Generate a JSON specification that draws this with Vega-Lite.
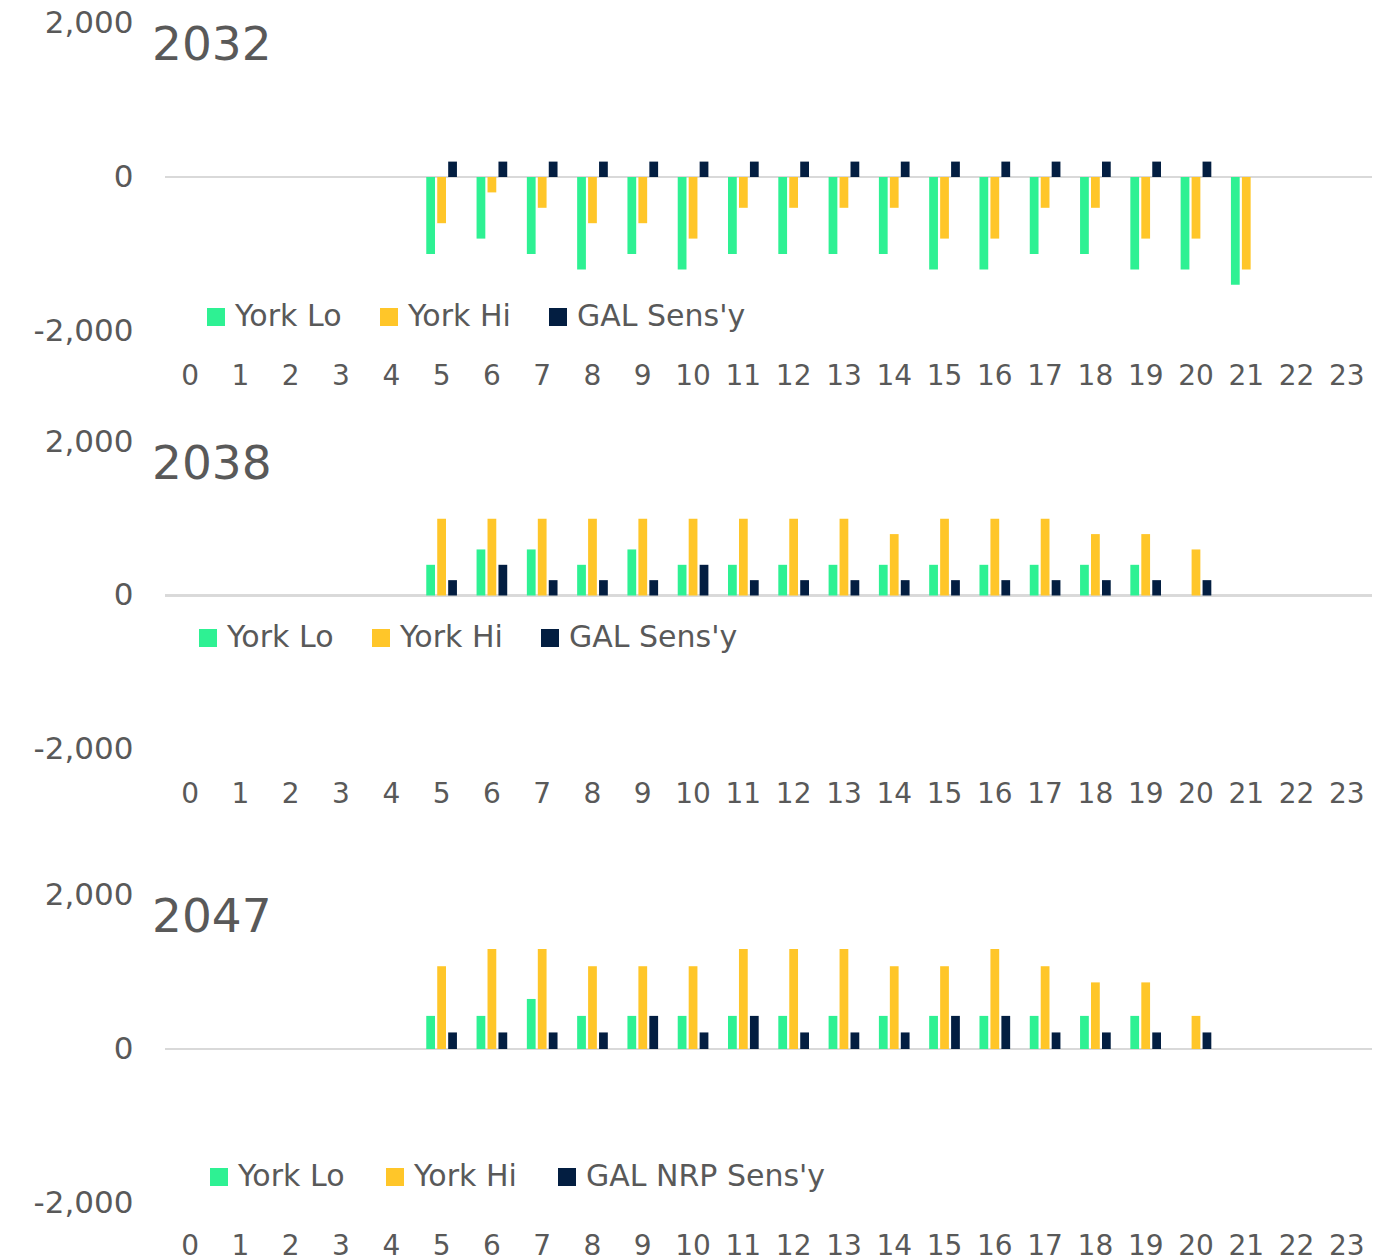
{
  "$schema": "https://vega.github.io/schema/vega-lite/v6.json",
  "background": "white",
  "padding": {"left": 33, "top": 7, "right": 0, "bottom": 0},
  "config": {
    "view": {"stroke": null},
    "font": "DejaVu Sans",
    "axis": {"domain": false, "ticks": false, "grid": false, "labelColor": "#595959", "title": null},
    "legend": {"labelColor": "#595959", "labelLimit": 500},
    "title": {"fontSize": 47, "fontWeight": "normal", "color": "#595959", "anchor": "start", "frame": "group", "baseline": "top", "dx": -13, "offset": -63}
  },
  "data": {"values": [
    {"panel": "2032", "hour": 5, "series": "York Lo", "value": -1000},
    {"panel": "2032", "hour": 6, "series": "York Lo", "value": -800},
    {"panel": "2032", "hour": 7, "series": "York Lo", "value": -1000},
    {"panel": "2032", "hour": 8, "series": "York Lo", "value": -1200},
    {"panel": "2032", "hour": 9, "series": "York Lo", "value": -1000},
    {"panel": "2032", "hour": 10, "series": "York Lo", "value": -1200},
    {"panel": "2032", "hour": 11, "series": "York Lo", "value": -1000},
    {"panel": "2032", "hour": 12, "series": "York Lo", "value": -1000},
    {"panel": "2032", "hour": 13, "series": "York Lo", "value": -1000},
    {"panel": "2032", "hour": 14, "series": "York Lo", "value": -1000},
    {"panel": "2032", "hour": 15, "series": "York Lo", "value": -1200},
    {"panel": "2032", "hour": 16, "series": "York Lo", "value": -1200},
    {"panel": "2032", "hour": 17, "series": "York Lo", "value": -1000},
    {"panel": "2032", "hour": 18, "series": "York Lo", "value": -1000},
    {"panel": "2032", "hour": 19, "series": "York Lo", "value": -1200},
    {"panel": "2032", "hour": 20, "series": "York Lo", "value": -1200},
    {"panel": "2032", "hour": 21, "series": "York Lo", "value": -1400},
    {"panel": "2032", "hour": 5, "series": "York Hi", "value": -600},
    {"panel": "2032", "hour": 6, "series": "York Hi", "value": -200},
    {"panel": "2032", "hour": 7, "series": "York Hi", "value": -400},
    {"panel": "2032", "hour": 8, "series": "York Hi", "value": -600},
    {"panel": "2032", "hour": 9, "series": "York Hi", "value": -600},
    {"panel": "2032", "hour": 10, "series": "York Hi", "value": -800},
    {"panel": "2032", "hour": 11, "series": "York Hi", "value": -400},
    {"panel": "2032", "hour": 12, "series": "York Hi", "value": -400},
    {"panel": "2032", "hour": 13, "series": "York Hi", "value": -400},
    {"panel": "2032", "hour": 14, "series": "York Hi", "value": -400},
    {"panel": "2032", "hour": 15, "series": "York Hi", "value": -800},
    {"panel": "2032", "hour": 16, "series": "York Hi", "value": -800},
    {"panel": "2032", "hour": 17, "series": "York Hi", "value": -400},
    {"panel": "2032", "hour": 18, "series": "York Hi", "value": -400},
    {"panel": "2032", "hour": 19, "series": "York Hi", "value": -800},
    {"panel": "2032", "hour": 20, "series": "York Hi", "value": -800},
    {"panel": "2032", "hour": 21, "series": "York Hi", "value": -1200},
    {"panel": "2032", "hour": 5, "series": "GAL Sens'y", "value": 200},
    {"panel": "2032", "hour": 6, "series": "GAL Sens'y", "value": 200},
    {"panel": "2032", "hour": 7, "series": "GAL Sens'y", "value": 200},
    {"panel": "2032", "hour": 8, "series": "GAL Sens'y", "value": 200},
    {"panel": "2032", "hour": 9, "series": "GAL Sens'y", "value": 200},
    {"panel": "2032", "hour": 10, "series": "GAL Sens'y", "value": 200},
    {"panel": "2032", "hour": 11, "series": "GAL Sens'y", "value": 200},
    {"panel": "2032", "hour": 12, "series": "GAL Sens'y", "value": 200},
    {"panel": "2032", "hour": 13, "series": "GAL Sens'y", "value": 200},
    {"panel": "2032", "hour": 14, "series": "GAL Sens'y", "value": 200},
    {"panel": "2032", "hour": 15, "series": "GAL Sens'y", "value": 200},
    {"panel": "2032", "hour": 16, "series": "GAL Sens'y", "value": 200},
    {"panel": "2032", "hour": 17, "series": "GAL Sens'y", "value": 200},
    {"panel": "2032", "hour": 18, "series": "GAL Sens'y", "value": 200},
    {"panel": "2032", "hour": 19, "series": "GAL Sens'y", "value": 200},
    {"panel": "2032", "hour": 20, "series": "GAL Sens'y", "value": 200},

    {"panel": "2038", "hour": 5, "series": "York Lo", "value": 400},
    {"panel": "2038", "hour": 6, "series": "York Lo", "value": 600},
    {"panel": "2038", "hour": 7, "series": "York Lo", "value": 600},
    {"panel": "2038", "hour": 8, "series": "York Lo", "value": 400},
    {"panel": "2038", "hour": 9, "series": "York Lo", "value": 600},
    {"panel": "2038", "hour": 10, "series": "York Lo", "value": 400},
    {"panel": "2038", "hour": 11, "series": "York Lo", "value": 400},
    {"panel": "2038", "hour": 12, "series": "York Lo", "value": 400},
    {"panel": "2038", "hour": 13, "series": "York Lo", "value": 400},
    {"panel": "2038", "hour": 14, "series": "York Lo", "value": 400},
    {"panel": "2038", "hour": 15, "series": "York Lo", "value": 400},
    {"panel": "2038", "hour": 16, "series": "York Lo", "value": 400},
    {"panel": "2038", "hour": 17, "series": "York Lo", "value": 400},
    {"panel": "2038", "hour": 18, "series": "York Lo", "value": 400},
    {"panel": "2038", "hour": 19, "series": "York Lo", "value": 400},
    {"panel": "2038", "hour": 5, "series": "York Hi", "value": 1000},
    {"panel": "2038", "hour": 6, "series": "York Hi", "value": 1000},
    {"panel": "2038", "hour": 7, "series": "York Hi", "value": 1000},
    {"panel": "2038", "hour": 8, "series": "York Hi", "value": 1000},
    {"panel": "2038", "hour": 9, "series": "York Hi", "value": 1000},
    {"panel": "2038", "hour": 10, "series": "York Hi", "value": 1000},
    {"panel": "2038", "hour": 11, "series": "York Hi", "value": 1000},
    {"panel": "2038", "hour": 12, "series": "York Hi", "value": 1000},
    {"panel": "2038", "hour": 13, "series": "York Hi", "value": 1000},
    {"panel": "2038", "hour": 14, "series": "York Hi", "value": 800},
    {"panel": "2038", "hour": 15, "series": "York Hi", "value": 1000},
    {"panel": "2038", "hour": 16, "series": "York Hi", "value": 1000},
    {"panel": "2038", "hour": 17, "series": "York Hi", "value": 1000},
    {"panel": "2038", "hour": 18, "series": "York Hi", "value": 800},
    {"panel": "2038", "hour": 19, "series": "York Hi", "value": 800},
    {"panel": "2038", "hour": 20, "series": "York Hi", "value": 600},
    {"panel": "2038", "hour": 5, "series": "GAL Sens'y", "value": 200},
    {"panel": "2038", "hour": 6, "series": "GAL Sens'y", "value": 400},
    {"panel": "2038", "hour": 7, "series": "GAL Sens'y", "value": 200},
    {"panel": "2038", "hour": 8, "series": "GAL Sens'y", "value": 200},
    {"panel": "2038", "hour": 9, "series": "GAL Sens'y", "value": 200},
    {"panel": "2038", "hour": 10, "series": "GAL Sens'y", "value": 400},
    {"panel": "2038", "hour": 11, "series": "GAL Sens'y", "value": 200},
    {"panel": "2038", "hour": 12, "series": "GAL Sens'y", "value": 200},
    {"panel": "2038", "hour": 13, "series": "GAL Sens'y", "value": 200},
    {"panel": "2038", "hour": 14, "series": "GAL Sens'y", "value": 200},
    {"panel": "2038", "hour": 15, "series": "GAL Sens'y", "value": 200},
    {"panel": "2038", "hour": 16, "series": "GAL Sens'y", "value": 200},
    {"panel": "2038", "hour": 17, "series": "GAL Sens'y", "value": 200},
    {"panel": "2038", "hour": 18, "series": "GAL Sens'y", "value": 200},
    {"panel": "2038", "hour": 19, "series": "GAL Sens'y", "value": 200},
    {"panel": "2038", "hour": 20, "series": "GAL Sens'y", "value": 200},

    {"panel": "2047", "hour": 5, "series": "York Lo", "value": 430},
    {"panel": "2047", "hour": 6, "series": "York Lo", "value": 430},
    {"panel": "2047", "hour": 7, "series": "York Lo", "value": 650},
    {"panel": "2047", "hour": 8, "series": "York Lo", "value": 430},
    {"panel": "2047", "hour": 9, "series": "York Lo", "value": 430},
    {"panel": "2047", "hour": 10, "series": "York Lo", "value": 430},
    {"panel": "2047", "hour": 11, "series": "York Lo", "value": 430},
    {"panel": "2047", "hour": 12, "series": "York Lo", "value": 430},
    {"panel": "2047", "hour": 13, "series": "York Lo", "value": 430},
    {"panel": "2047", "hour": 14, "series": "York Lo", "value": 430},
    {"panel": "2047", "hour": 15, "series": "York Lo", "value": 430},
    {"panel": "2047", "hour": 16, "series": "York Lo", "value": 430},
    {"panel": "2047", "hour": 17, "series": "York Lo", "value": 430},
    {"panel": "2047", "hour": 18, "series": "York Lo", "value": 430},
    {"panel": "2047", "hour": 19, "series": "York Lo", "value": 430},
    {"panel": "2047", "hour": 5, "series": "York Hi", "value": 1075},
    {"panel": "2047", "hour": 6, "series": "York Hi", "value": 1300},
    {"panel": "2047", "hour": 7, "series": "York Hi", "value": 1300},
    {"panel": "2047", "hour": 8, "series": "York Hi", "value": 1075},
    {"panel": "2047", "hour": 9, "series": "York Hi", "value": 1075},
    {"panel": "2047", "hour": 10, "series": "York Hi", "value": 1075},
    {"panel": "2047", "hour": 11, "series": "York Hi", "value": 1300},
    {"panel": "2047", "hour": 12, "series": "York Hi", "value": 1300},
    {"panel": "2047", "hour": 13, "series": "York Hi", "value": 1300},
    {"panel": "2047", "hour": 14, "series": "York Hi", "value": 1075},
    {"panel": "2047", "hour": 15, "series": "York Hi", "value": 1075},
    {"panel": "2047", "hour": 16, "series": "York Hi", "value": 1300},
    {"panel": "2047", "hour": 17, "series": "York Hi", "value": 1075},
    {"panel": "2047", "hour": 18, "series": "York Hi", "value": 865},
    {"panel": "2047", "hour": 19, "series": "York Hi", "value": 865},
    {"panel": "2047", "hour": 20, "series": "York Hi", "value": 430},
    {"panel": "2047", "hour": 5, "series": "GAL NRP Sens'y", "value": 215},
    {"panel": "2047", "hour": 6, "series": "GAL NRP Sens'y", "value": 215},
    {"panel": "2047", "hour": 7, "series": "GAL NRP Sens'y", "value": 215},
    {"panel": "2047", "hour": 8, "series": "GAL NRP Sens'y", "value": 215},
    {"panel": "2047", "hour": 9, "series": "GAL NRP Sens'y", "value": 430},
    {"panel": "2047", "hour": 10, "series": "GAL NRP Sens'y", "value": 215},
    {"panel": "2047", "hour": 11, "series": "GAL NRP Sens'y", "value": 430},
    {"panel": "2047", "hour": 12, "series": "GAL NRP Sens'y", "value": 215},
    {"panel": "2047", "hour": 13, "series": "GAL NRP Sens'y", "value": 215},
    {"panel": "2047", "hour": 14, "series": "GAL NRP Sens'y", "value": 215},
    {"panel": "2047", "hour": 15, "series": "GAL NRP Sens'y", "value": 430},
    {"panel": "2047", "hour": 16, "series": "GAL NRP Sens'y", "value": 430},
    {"panel": "2047", "hour": 17, "series": "GAL NRP Sens'y", "value": 215},
    {"panel": "2047", "hour": 18, "series": "GAL NRP Sens'y", "value": 215},
    {"panel": "2047", "hour": 19, "series": "GAL NRP Sens'y", "value": 215},
    {"panel": "2047", "hour": 20, "series": "GAL NRP Sens'y", "value": 215}
  ]},
  "spacing": 71,
  "resolve": {"scale": {"color": "independent", "xOffset": "independent"}, "legend": {"color": "independent"}},
  "vconcat": [
    {
      "spacing": 36,
      "resolve": {"scale": {"color": "independent", "xOffset": "independent"}, "legend": {"color": "independent"}},
      "vconcat": [
        {
          "width": 1207, "height": 308,
          "title": {"text": "2032"},
          "transform": [{"filter": "datum.panel === '2032'"}],
          "layer": [
            {"mark": {"type": "rule", "color": "#D9D9D9", "strokeWidth": 2}, "encoding": {"y": {"datum": 0, "type": "quantitative"}}},
            {
              "mark": {"type": "bar"},
              "encoding": {
                "x": {"field": "hour", "type": "ordinal", "scale": {"domain": [0,1,2,3,4,5,6,7,8,9,10,11,12,13,14,15,16,17,18,19,20,21,22,23], "paddingInner": 0.39, "paddingOuter": 0.195}, "axis": {"labelAngle": 0, "labelFontSize": 28, "labelPadding": 31, "orient": "bottom"}},
                "xOffset": {"field": "series", "type": "nominal", "scale": {"domain": ["York Lo", "York Hi", "GAL Sens'y"], "paddingInner": 0.2}},
                "y": {"field": "value", "type": "quantitative", "scale": {"domain": [-2000, 2000], "nice": false}, "axis": {"values": [-2000, 0, 2000], "labelFontSize": 31, "labelPadding": 32, "labelExpr": "replace(format(datum.value, ','), '\u2212', '-')"}},
                "color": {"field": "series", "type": "nominal", "scale": {"domain": ["York Lo", "York Hi", "GAL Sens'y"], "range": ["#2EF193", "#FFC629", "#031E41"]},
                  "legend": {"title": null, "orient": "none", "legendX": 36, "legendY": 279, "direction": "horizontal", "symbolType": "square", "symbolSize": 324, "symbolStrokeWidth": 0, "symbolOpacity": 1, "labelFontSize": 30, "labelOffset": 4, "columnPadding": 32}}
              }
            }
          ]
        },
        {
          "width": 1207, "height": 307,
          "title": {"text": "2038"},
          "transform": [{"filter": "datum.panel === '2038'"}],
          "layer": [
            {"mark": {"type": "rule", "color": "#D9D9D9", "strokeWidth": 2}, "encoding": {"y": {"datum": 0, "type": "quantitative"}}},
            {
              "mark": {"type": "bar"},
              "encoding": {
                "x": {"field": "hour", "type": "ordinal", "scale": {"domain": [0,1,2,3,4,5,6,7,8,9,10,11,12,13,14,15,16,17,18,19,20,21,22,23], "paddingInner": 0.39, "paddingOuter": 0.195}, "axis": {"labelAngle": 0, "labelFontSize": 28, "labelPadding": 31, "orient": "bottom"}},
                "xOffset": {"field": "series", "type": "nominal", "scale": {"domain": ["York Lo", "York Hi", "GAL Sens'y"], "paddingInner": 0.2}},
                "y": {"field": "value", "type": "quantitative", "scale": {"domain": [-2000, 2000], "nice": false}, "axis": {"values": [-2000, 0, 2000], "labelFontSize": 31, "labelPadding": 32, "labelExpr": "replace(format(datum.value, ','), '\u2212', '-')"}},
                "color": {"field": "series", "type": "nominal", "scale": {"domain": ["York Lo", "York Hi", "GAL Sens'y"], "range": ["#2EF193", "#FFC629", "#031E41"]},
                  "legend": {"title": null, "orient": "none", "legendX": 28, "legendY": 181, "direction": "horizontal", "symbolType": "square", "symbolSize": 324, "symbolStrokeWidth": 0, "symbolOpacity": 1, "labelFontSize": 30, "labelOffset": 4, "columnPadding": 32}}
              }
            }
          ]
        }
      ]
    },
    {
      "width": 1207, "height": 308,
      "title": {"text": "2047"},
      "transform": [{"filter": "datum.panel === '2047'"}],
      "layer": [
        {"mark": {"type": "rule", "color": "#D9D9D9", "strokeWidth": 2}, "encoding": {"y": {"datum": 0, "type": "quantitative"}}},
        {
          "mark": {"type": "bar"},
          "encoding": {
            "x": {"field": "hour", "type": "ordinal", "scale": {"domain": [0,1,2,3,4,5,6,7,8,9,10,11,12,13,14,15,16,17,18,19,20,21,22,23], "paddingInner": 0.39, "paddingOuter": 0.195}, "axis": {"labelAngle": 0, "labelFontSize": 28, "labelPadding": 29, "orient": "bottom"}},
            "xOffset": {"field": "series", "type": "nominal", "scale": {"domain": ["York Lo", "York Hi", "GAL NRP Sens'y"], "paddingInner": 0.2}},
            "y": {"field": "value", "type": "quantitative", "scale": {"domain": [-2000, 2000], "nice": false}, "axis": {"values": [-2000, 0, 2000], "labelFontSize": 31, "labelPadding": 32, "labelExpr": "replace(format(datum.value, ','), '\u2212', '-')"}},
            "color": {"field": "series", "type": "nominal", "scale": {"domain": ["York Lo", "York Hi", "GAL NRP Sens'y"], "range": ["#2EF193", "#FFC629", "#031E41"]},
              "legend": {"title": null, "orient": "none", "legendX": 39, "legendY": 267, "direction": "horizontal", "symbolType": "square", "symbolSize": 324, "symbolStrokeWidth": 0, "symbolOpacity": 1, "labelFontSize": 30, "labelOffset": 4, "columnPadding": 35}}
          }
        }
      ]
    }
  ]
}
